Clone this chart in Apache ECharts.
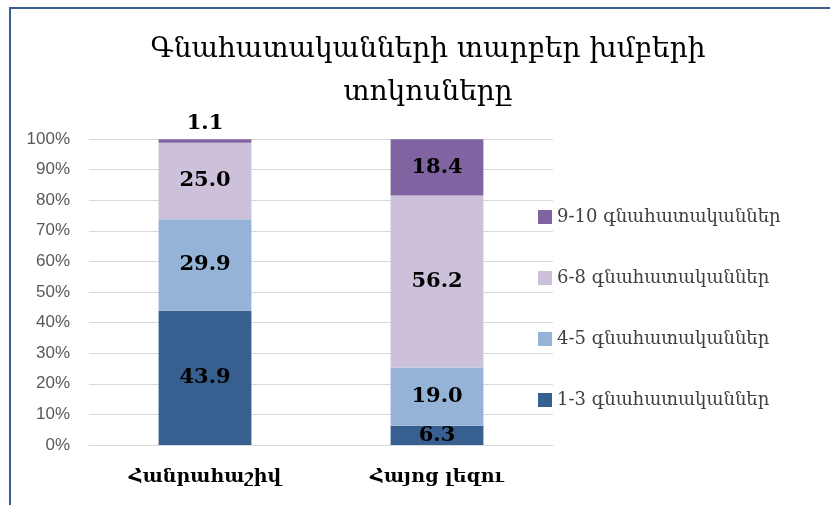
<!DOCTYPE html>
<html>
<head>
<meta charset="utf-8">
<title>Գնահատականներ</title>
<script src="https://cdn.jsdelivr.net/npm/echarts@6/dist/echarts.min.js"></script>
<style>
  html, body { margin: 0; padding: 0; background: #fff; }
  #chart { width: 830px; height: 505px; }
</style>
</head>
<body>
<div id="chart"></div>
<script>
// առարկաներ
var categories = ['Հանրահաշիվ', 'Հայոց լեզու'];
var seriesNames = ['1-3 գնահատականներ', '4-5 գնահատականներ', '6-8 գնահատականներ', '9-10 գնահատականներ'];
var grade13 = [43.9, 6.3];
var grade45 = [29.9, 19.0];
var grade68 = [25.0, 56.2];
var grade910 = [1.1, 18.4];
var colors = ['#375f8f', '#95b3d7', '#ccc0da', '#8064a2'];
var yTicks = [0, 10, 20, 30, 40, 50, 60, 70, 80, 90, 100];

var values = [grade13, grade45, grade68, grade910];

var labelStyle = {
    show: true,
    position: 'inside',
    color: '#000',
    fontFamily: 'DejaVu Serif',
    fontWeight: 'bold',
    fontSize: 21,
    formatter: function (p) { return p.value.toFixed(1); }
};

var series = seriesNames.map(function (name, i) {
    return {
        name: name,
        type: 'bar',
        stack: 'total',
        barWidth: '40%',
        itemStyle: { color: colors[i] },
        label: labelStyle,
        data: values[i].map(function (v) {
            // շատ փոքր հատվածի պիտակը՝ սյան վերևում
            if (v < 3) {
                return { value: v, label: { position: 'top', distance: 5 } };
            }
            return v;
        })
    };
});

var chart = echarts.init(document.getElementById('chart'));
chart.setOption({
    animation: false,
    title: {
        text: 'Գնահատականների տարբեր խմբերի\nտոկոսները',
        left: 423,
        textAlign: 'center',
        top: 23,
        textStyle: {
            fontFamily: 'DejaVu Serif',
            fontWeight: 'normal',
            fontSize: 28,
            lineHeight: 43,
            color: '#000'
        }
    },
    legend: {
        data: seriesNames.slice().reverse(),
        orient: 'vertical',
        left: 533,
        top: 203,
        itemWidth: 14,
        itemHeight: 14,
        itemGap: 43,
        icon: 'rect',
        textStyle: {
            fontFamily: 'DejaVu Serif',
            fontSize: 18,
            lineHeight: 18,
            color: '#404040'
        }
    },
    grid: { left: 89, right: 277, top: 139, bottom: 60 },
    xAxis: {
        type: 'category',
        data: categories,
        axisLine: { show: true, lineStyle: { color: '#d9d9d9' } },
        axisTick: { show: false },
        axisLabel: {
            margin: 23,
            fontFamily: 'DejaVu Serif',
            fontWeight: 'bold',
            fontSize: 19,
            color: '#000'
        }
    },
    yAxis: {
        type: 'value',
        min: 0,
        max: 100,
        interval: 10,
        axisLine: { show: false },
        axisTick: { show: false },
        splitLine: { lineStyle: { color: '#d9d9d9' } },
        axisLabel: {
            margin: 19,
            fontFamily: 'Liberation Sans',
            fontSize: 17,
            color: '#595959',
            formatter: function (v) { return yTicks.indexOf(v) >= 0 ? v + '%' : ''; }
        }
    },
    graphic: [{
        type: 'polyline',
        shape: { points: [[10, 505], [10, 8], [830, 8]] },
        style: { stroke: '#3a5f8f', lineWidth: 2, fill: null }
    }],
    series: series
});
</script>
</body>
</html>
